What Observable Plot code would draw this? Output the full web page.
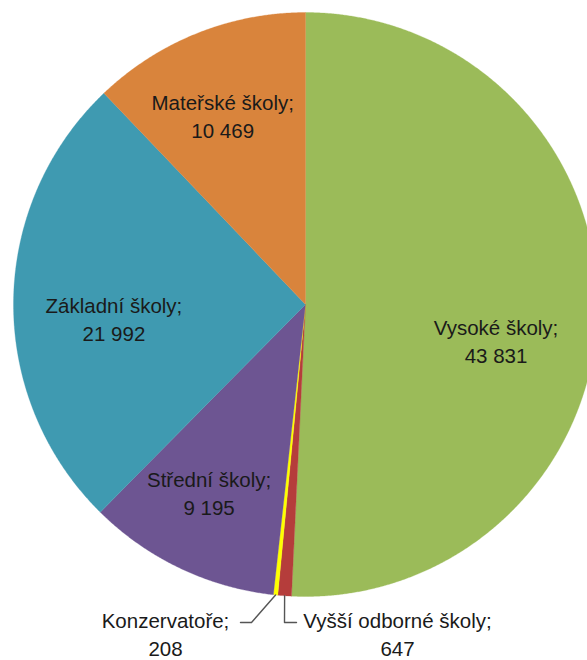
<!DOCTYPE html>
<html>
<head>
<meta charset="utf-8">
<script src="https://cdn.jsdelivr.net/npm/d3@7"></script>
<script src="https://cdn.jsdelivr.net/npm/@observablehq/plot@0.6"></script>
<style>
  html, body { margin: 0; padding: 0; background: #fff; overflow: hidden; }
  #chart svg { display: block; }
</style>
</head>
<body>
<div id="chart"></div>
<script>
// ---- data ----
const categories = ["Vysoké školy", "Vyšší odborné školy", "Konzervatoře", "Střední školy", "Základní školy", "Mateřské školy"];
const values = [43831, 647, 208, 9195, 21992, 10469];
const valueLabels = ["43 831", "647", "208", "9 195", "21 992", "10 469"];
const colors = ["#9BBB59", "#B53D3B", "#FFFF00", "#6D5592", "#3F9AB1", "#D9843C"];

// ---- layout ----
const W = 587, H = 660;
const cx = 305, cy = 304, R = 292;
const font = "Liberation Sans, Arial, sans-serif";
const fontSize = 20.5;
// inside label: radius fraction + pixel nudge
const insideLabel = {
  "Vysoké školy": {r: 0.68, dx: -8, dy: 31},
  "Mateřské školy": {r: 0.68, dx: -9, dy: -5},
  "Základní školy": {r: 0.68, dx: 7, dy: 15},
  "Střední školy": {r: 0.68, dx: -11, dy: 8}
};
// outside labels: block center in px, leader elbow
const outsideLabel = {
  "Konzervatoře": {x: 165, y: 633, elbow: [251, 622], end: [240, 622]},
  "Vyšší odborné školy": {x: 397, y: 633, elbow: [284, 622], end: [296, 622]}
};

const px2x = p => (p - cx) / R;
const py2y = p => (cy - p) / R;

const arcs = d3.pie().sort(null).value(d => d)(values);

// slice polygons in unit-circle coordinates
const slicePts = [];
arcs.forEach((a, i) => {
  const cat = categories[i];
  slicePts.push({cat, x: 0, y: 0});
  const n = Math.max(2, Math.ceil((a.endAngle - a.startAngle) / (Math.PI / 720)));
  for (let k = 0; k <= n; k++) {
    const t = a.startAngle + (a.endAngle - a.startAngle) * k / n;
    slicePts.push({cat, x: Math.sin(t), y: Math.cos(t)});
  }
  slicePts.push({cat, x: 0, y: 0});
});

const labels = [];
const leaders = [];
arcs.forEach((a, i) => {
  const cat = categories[i];
  const mid = (a.startAngle + a.endAngle) / 2;
  const text = cat + ";\n" + valueLabels[i];
  if (insideLabel[cat]) {
    const L = insideLabel[cat];
    labels.push({text, x: L.r * Math.sin(mid) + L.dx / R, y: L.r * Math.cos(mid) - L.dy / R});
  } else if (outsideLabel[cat]) {
    const L = outsideLabel[cat];
    labels.push({text, x: px2x(L.x), y: py2y(L.y)});
    leaders.push({cat, x: Math.sin(mid), y: Math.cos(mid)});
    leaders.push({cat, x: px2x(L.elbow[0]), y: py2y(L.elbow[1])});
    leaders.push({cat, x: px2x(L.end[0]), y: py2y(L.end[1])});
  }
});

const chart = Plot.plot({
  width: W,
  height: H,
  margin: 0,
  style: {background: "#fff", fontFamily: font},
  x: {domain: [px2x(0), px2x(W)], range: [0, W], axis: null},
  y: {domain: [py2y(H), py2y(0)], range: [H, 0], axis: null},
  color: {domain: categories, range: colors},
  marks: [
    Plot.line(slicePts, {x: "x", y: "y", z: "cat", fill: "cat", stroke: "cat", strokeWidth: 0.3, curve: "linear"}),
    Plot.line(leaders, {x: "x", y: "y", z: "cat", stroke: "#555", strokeWidth: 1.4, curve: "linear"}),
    Plot.text(labels, {x: "x", y: "y", text: "text", fontSize, lineHeight: 1.36, fill: "#1a1a1a", fontFamily: font, textAnchor: "middle"})
  ]
});
document.getElementById("chart").appendChild(chart);
</script>
</body>
</html>
